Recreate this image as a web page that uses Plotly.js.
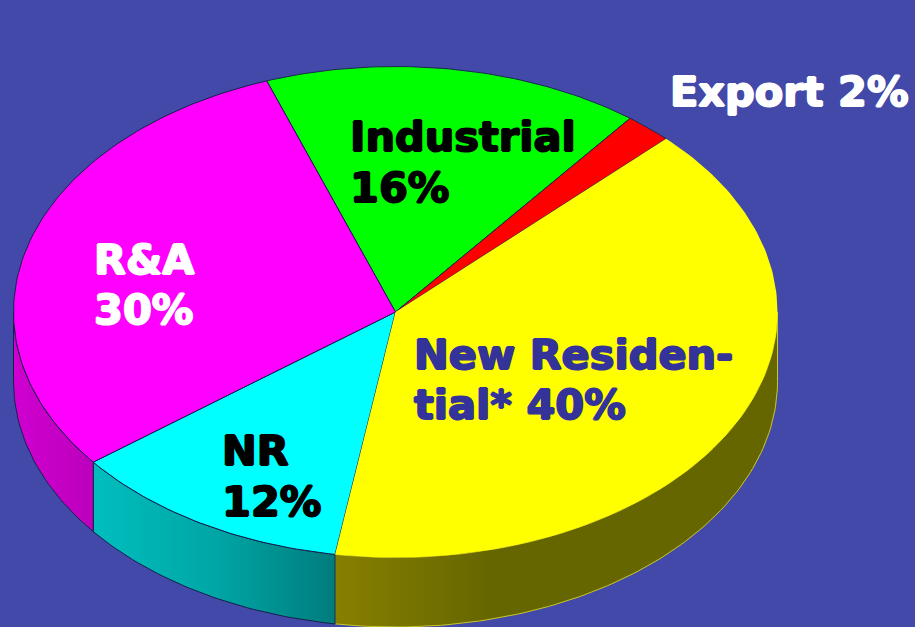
<!DOCTYPE html>
<html><head><meta charset="utf-8">
<script src="https://cdn.plot.ly/plotly-3.0.1.min.js"></script>
<style>html,body{margin:0;padding:0;background:#4349a9}#c{width:915px;height:627px}</style>
</head><body><div id="c"></div>
<script>
const categories = ["Industrial","Export","New Residential*","NR","R&A"];
const values = [16,2,40,12,30];
const topColors = ["#00ff00","#ff0000","#ffff00","#00ffff","#ff00ff"];
const edgeColors = ["#1a2a50","#1a2a50","#c8c820","#14204c","#14204c"];
const labelText = ["Industrial","16%","Export 2%","New Residen-","tial* 40%","NR","12%","R&A","30%"];
const labelColors = ["#000000","#000000","#ffffff","#333399","#333399","#000000","#000000","#ffffff","#ffffff"];
const labelX = [349,349,669,413,413,221,221,93,93];
const labelBaseline = [152,203,107,370,420,466,517,275,325];
const wallScales = {
  "New Residential*":[[0,"#868000"],[0.35,"#666600"],[1,"#666600"]],
  "NR":[[0,"#00bebe"],[0.5,"#00a6a6"],[1,"#007c7c"]],
  "R&A":[[0,"#d000d0"],[1,"#bc00bc"]]
};
const cx=395.5, cy=312, rx=382, ry=245.5, depth=69.5, startAngle=-19.7;
const fontSize=41.5;

const pt=(deg,d)=>[cx+rx*Math.sin(deg*Math.PI/180), cy-ry*Math.cos(deg*Math.PI/180)+(d||0)];
const arc=(a,b,d)=>{const n=Math.max(2,Math.ceil(Math.abs(b-a)));const o=[];for(let i=0;i<=n;i++)o.push(pt(a+(b-a)*i/n,d));return o;};
const total=values.reduce((s,v)=>s+v,0);
let ang=startAngle;
const spans=values.map(v=>{const a=ang;ang+=v/total*360;return [a,ang];});
const traces=[];
spans.forEach((s,i)=>{
  const a=Math.max(s[0],90), b=Math.min(s[1],270);
  if(b<=a) return;
  const poly=arc(a,b,0).concat(arc(b,a,depth));
  poly.push(poly[0]);
  const xs=poly.map(p=>p[0]);
  traces.push({type:"scatter",mode:"lines",x:xs,y:poly.map(p=>p[1]),fill:"toself",
    fillgradient:{type:"horizontal",colorscale:wallScales[categories[i]],start:Math.min(...xs),stop:Math.max(...xs)},
    line:{color:edgeColors[i],width:1},hoverinfo:"skip",showlegend:false});
});
[0,1,3,4,2].forEach(i=>{
  const s=spans[i];
  const poly=[[cx,cy]].concat(arc(s[0],s[1],0));
  poly.push([cx,cy]);
  traces.push({type:"scatter",mode:"lines",x:poly.map(p=>p[0]),y:poly.map(p=>p[1]),fill:"toself",
    fillcolor:topColors[i],line:{color:i===2?"rgba(0,0,0,0)":edgeColors[i],width:1},
    name:categories[i],text:categories[i]+" "+values[i]+"%",hoverinfo:"text",showlegend:false});
});
const annotations=labelText.map((t,i)=>{
  const col=labelColors[i];
  return {
    xref:"x",yref:"y",x:labelX[i],y:labelBaseline[i]-fontSize,xanchor:"left",yanchor:"top",align:"left",showarrow:false,
    text:t,borderpad:0,
    font:{family:"DejaVu Sans, Liberation Sans, sans-serif",size:fontSize,weight:900,color:col,
      shadow:`1px 0 0 ${col}, -1px 0 0 ${col}, 0 1px 0 ${col}, 0 -1px 0 ${col}`}
  };
});
Plotly.newPlot("c",traces,{
  width:915,height:627,margin:{l:0,r:0,t:0,b:0},
  paper_bgcolor:"#4349a9",plot_bgcolor:"#4349a9",
  xaxis:{range:[0,915],visible:false,fixedrange:true},
  yaxis:{range:[627,0],visible:false,fixedrange:true},
  annotations:annotations,showlegend:false
},{displayModeBar:false,staticPlot:true});
</script></body></html>
